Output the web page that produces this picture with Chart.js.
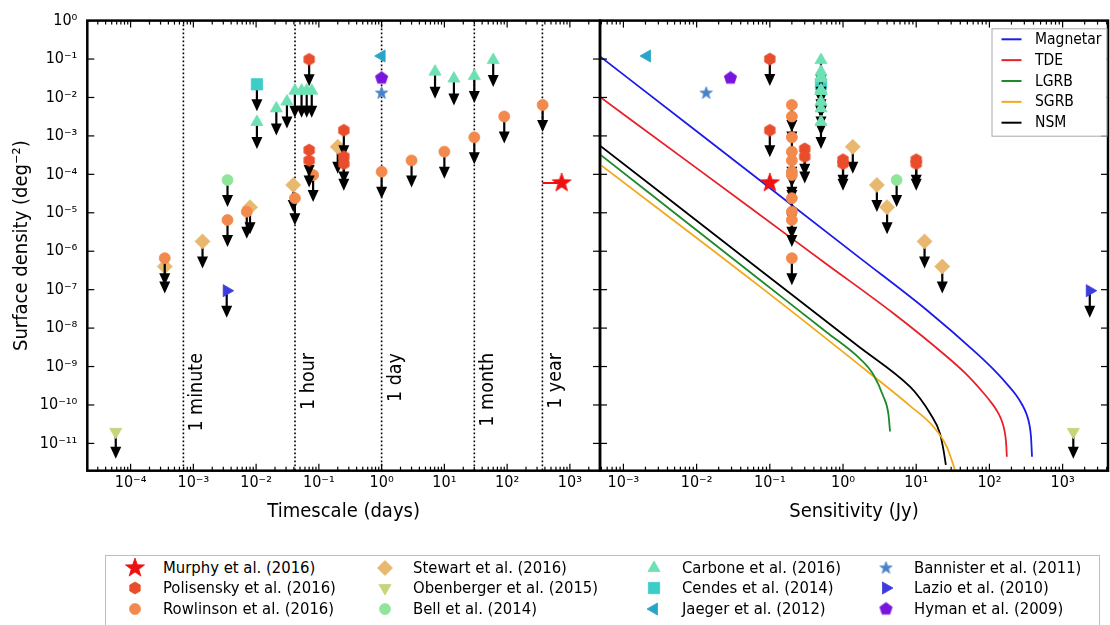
<!DOCTYPE html>
<html>
<head>
<meta charset="utf-8">
<title>Transient surface density vs timescale and sensitivity</title>
<script src="https://cdn.jsdelivr.net/npm/chart.js@4.4.1/dist/chart.umd.min.js"></script>
<style>
  html, body { margin: 0; padding: 0; background: #fff; }
  #page { position: relative; width: 1110px; height: 625px; overflow: hidden; background: #fff; }
  #page canvas.chart { position: absolute; top: 0; }
  #timeChart { left: 0; }
  #sensChart { left: 598px; }
  #legend { position: absolute; left: 105px; top: 555px; width: 995px; height: 90px;
            border: 1px solid #bdbdbd; box-sizing: border-box; background: #fff; }
  #legend canvas { position: absolute; }
  #legend span { position: absolute; white-space: nowrap; color: #000; line-height: 20px; }
</style>
</head>
<body>
<div id="page">
  <canvas id="timeChart" class="chart" width="602" height="530"></canvas>
  <canvas id="sensChart" class="chart" width="512" height="530"></canvas>
  <div id="legend"></div>
</div>
<script>
// ---- axis ticks ----
const timeTicks = [1e-4, 1e-3, 1e-2, 1e-1, 1, 1e1, 1e2, 1e3];
const sensTicks = [1e-3, 1e-2, 1e-1, 1, 1e1, 1e2, 1e3];
const densityTicks = [1, 1e-1, 1e-2, 1e-3, 1e-4, 1e-5, 1e-6, 1e-7, 1e-8, 1e-9, 1e-10, 1e-11];

// ---- reference timescales (dotted lines on the left panel) ----
const guideDays = [6.94e-4, 0.0417, 1, 30, 365];
const guideLabels = ['1 minute', '1 hour', '1 day', '1 month', '1 year'];
const guideLabelLevel = 2.25e-9; // density where the label text ends

// ---- surveys: timescale (days), sensitivity (Jy), surface density (deg^-2) ----
const murphyTime = [740];
const murphyTimeSpan = [365, 740];
const murphySens = [0.1];
const murphyDensity = [6.0e-5];

const polisenskyTime = [0.07, 0.07, 0.07, 0.25, 0.25, 0.25];
const polisenskyTimeDensity = [0.098, 4.3e-4, 2.3e-4, 1.4e-3, 2.9e-4, 1.9e-4];
const polisenskySens = [0.1, 0.1, 0.3, 0.3, 1.0, 1.0, 10, 10];
const polisenskySensDensity = [0.1, 1.4e-3, 4.6e-4, 2.9e-4, 2.4e-4, 1.9e-4, 2.4e-4, 1.9e-4];

const rowlinsonTime = [3.5e-4, 3.5e-3, 7.1e-3, 0.0415, 0.081, 1.0, 3.0, 10, 30, 90, 368];
const rowlinsonSens = [0.2, 0.2, 0.2, 0.2, 0.2, 0.2, 0.2, 0.2, 0.2, 0.2, 0.2];
const rowlinsonDensity = [6.6e-7, 6.5e-6, 1.07e-5, 2.4e-5, 9.6e-5, 1.17e-4, 2.3e-4, 3.9e-4, 9.2e-4, 3.2e-3, 6.4e-3];

const stewartTime = [3.5e-4, 1.4e-3, 8.0e-3, 0.039, 0.20];
const stewartSens = [22.7, 13, 4.0, 2.9, 1.36];
const stewartDensity = [4.0e-7, 1.8e-6, 1.4e-5, 5.3e-5, 5.2e-4];

const obenbergerTime = [5.8e-5];
const obenbergerSens = [1400];
const obenbergerDensity = [2.0e-11];

const bellTime = [3.5e-3];
const bellSens = [5.4];
const bellDensity = [7.1e-5];

const carboneTime = [0.0103, 0.021, 0.031, 0.0415, 0.053, 0.064, 0.077, 7.1, 14.2, 30, 60];
const carboneSens = [0.5, 0.5, 0.5, 0.5, 0.5, 0.5, 0.5, 0.5, 0.5, 0.5, 0.5];
const carboneDensity = [2.3e-3, 5.2e-3, 7.8e-3, 0.015, 0.015, 0.015, 0.015, 0.047, 0.031, 0.036, 0.094];

const cendesTime = [0.0103];
const cendesSens = [0.5];
const cendesDensity = [0.022];

const jaegerTime = [1.0];
const jaegerSens = [2.1e-3];
const jaegerDensity = [0.12];

const bannisterTime = [1.0];
const bannisterSens = [0.0135];
const bannisterDensity = [0.013];

const lazioTime = [3.4e-3];
const lazioSens = [2350];
const lazioDensity = [9.4e-8];

const hymanTime = [1.0];
const hymanSens = [0.029];
const hymanDensity = [0.032];

// ---- model source counts (right panel) ----
const magnetarSens = [4.79e-4, 0.01, 0.1, 1.71, 13.9, 67.1, 119, 174, 231, 279, 321, 353, 370, 382];
const magnetarDensity = [0.117, 1.32e-3, 4.4e-5, 6.6e-7, 2.95e-8, 2.19e-9, 7.7e-10, 3.5e-10, 1.82e-10,
                         1.03e-10, 5.8e-11, 3.0e-11, 1.47e-11, 4.5e-12];
const tdeSens = [4.79e-4, 0.01, 0.201, 0.598, 4.86, 26.1, 46.4, 74.4, 102, 127, 146, 161, 169, 173];
const tdeDensity = [1.03e-2, 1.45e-4, 2.13e-6, 4.6e-7, 2.43e-8, 1.82e-9, 6.8e-10, 2.6e-10, 1.27e-10,
                    7.0e-11, 4.07e-11, 2.11e-11, 1.04e-11, 4.5e-12];
const lgrbSens = [4.79e-4, 0.0735, 0.598, 1.71, 2.59, 3.56, 4.16, 4.39];
const lgrbDensity = [3.3e-4, 1.78e-7, 7.8e-9, 1.58e-9, 6.2e-10, 1.66e-10, 6.0e-11, 2.04e-11];
const sgrbSens = [4.79e-4, 0.0735, 2.34, 8.22, 17.1, 26.1, 33.9];
const sgrbDensity = [1.82e-4, 1.2e-7, 6.6e-10, 9.5e-11, 2.75e-11, 8.3e-12, 2.04e-12];
const nsmSens = [4.79e-4, 0.0735, 1.585, 8.22, 11.3, 15.5, 21.1, 23.6, 25.4];
const nsmDensity = [5.6e-4, 3.24e-7, 3.47e-9, 3.0e-10, 1.48e-10, 6.0e-11, 1.82e-11, 6.7e-12, 2.75e-12];

// ---- fonts: the figure uses a condensed sans ----
function fontExists(name) {
    const g = document.createElement('canvas').getContext('2d');
    const probe = 'Surface density 0123456789 wmWM';
    g.font = '32px monospace';
    const base = g.measureText(probe).width;
    g.font = '32px "' + name + '", monospace';
    return g.measureText(probe).width !== base;
}
const HAS_COND = fontExists('DejaVu Sans Condensed');
const FAMILY = HAS_COND ? '"DejaVu Sans Condensed", "DejaVu Sans", sans-serif' : '"DejaVu Sans", sans-serif';
const K = HAS_COND ? 1 : 0.9;
const TICK = 16 * K, TITLE = 20 * K, GUIDE = 19.5 * K, LEG = 16.5 * K, CURVE_LEG = 15.5 * K;
Chart.defaults.font.family = FAMILY;
Chart.defaults.color = '#000';

const SUP = { '-': '\u207B', '0': '\u2070', '1': '\u00B9', '2': '\u00B2', '3': '\u00B3', '4': '\u2074',
              '5': '\u2075', '6': '\u2076', '7': '\u2077', '8': '\u2078', '9': '\u2079' };
function powLabel(v) {
    const e = Math.round(Math.log10(v));
    return '10' + String(e).split('').map(ch => SUP[ch]).join('');
}

// custom marker shapes that Chart.js does not have
function shapeCanvas(kind, r, color) {
    const c = document.createElement('canvas');
    const n = Math.ceil(2 * r + 4);
    c.width = c.height = n;
    const g = c.getContext('2d');
    g.translate(n / 2, n / 2);
    g.beginPath();
    if (kind === 'star') {
        for (let k = 0; k < 10; k++) {
            const rr = k % 2 ? r * 0.4 : r;
            const a = -Math.PI / 2 + k * Math.PI / 5;
            g.lineTo(rr * Math.cos(a), rr * Math.sin(a));
        }
    } else {
        const sides = kind === 'hexagon' ? 6 : 5;
        for (let k = 0; k < sides; k++) {
            const a = -Math.PI / 2 + k * 2 * Math.PI / sides;
            g.lineTo(r * Math.cos(a), r * Math.sin(a));
        }
    }
    g.closePath();
    g.fillStyle = color;
    g.fill();
    g.lineWidth = 0.8;
    g.strokeStyle = color;
    g.stroke();
    return c;
}

// legend order (column major, 3 rows)
const series = [
    { name: 'Murphy et al. (2016)', color: '#ee1111', shape: 'star', size: 10, limit: false,
      time: murphyTime, sens: murphySens, tDen: murphyDensity, sDen: murphyDensity },
    { name: 'Polisensky et al. (2016)', color: '#e94d2c', shape: 'hexagon', size: 6, limit: true,
      time: polisenskyTime, sens: polisenskySens, tDen: polisenskyTimeDensity, sDen: polisenskySensDensity },
    { name: 'Rowlinson et al. (2016)', color: '#f28a4e', style: 'circle', size: 5.5, limit: true,
      time: rowlinsonTime, sens: rowlinsonSens, tDen: rowlinsonDensity, sDen: rowlinsonDensity },
    { name: 'Stewart et al. (2016)', color: '#e8b86e', style: 'rectRot', size: 7.5, limit: true,
      time: stewartTime, sens: stewartSens, tDen: stewartDensity, sDen: stewartDensity },
    { name: 'Obenberger et al. (2015)', color: '#c4d67a', style: 'triangle', rotation: 180, size: 7, limit: true,
      time: obenbergerTime, sens: obenbergerSens, tDen: obenbergerDensity, sDen: obenbergerDensity },
    { name: 'Bell et al. (2014)', color: '#8fe69a', style: 'circle', size: 5.5, limit: true,
      time: bellTime, sens: bellSens, tDen: bellDensity, sDen: bellDensity },
    { name: 'Carbone et al. (2016)', color: '#6ee1b4', style: 'triangle', size: 7, limit: true,
      time: carboneTime, sens: carboneSens, tDen: carboneDensity, sDen: carboneDensity },
    { name: 'Cendes et al. (2014)', color: '#3ccdc8', style: 'rect', size: 8, limit: true,
      time: cendesTime, sens: cendesSens, tDen: cendesDensity, sDen: cendesDensity },
    { name: 'Jaeger et al. (2012)', color: '#28a5c8', style: 'triangle', rotation: -90, size: 7, limit: false,
      time: jaegerTime, sens: jaegerSens, tDen: jaegerDensity, sDen: jaegerDensity },
    { name: 'Bannister et al. (2011)', color: '#4682c8', shape: 'star', size: 6.5, limit: false,
      time: bannisterTime, sens: bannisterSens, tDen: bannisterDensity, sDen: bannisterDensity },
    { name: 'Lazio et al. (2010)', color: '#3c3cdc', style: 'triangle', rotation: 90, size: 7, limit: true,
      time: lazioTime, sens: lazioSens, tDen: lazioDensity, sDen: lazioDensity },
    { name: 'Hyman et al. (2009)', color: '#7814dc', shape: 'pentagon', size: 6.5, limit: false,
      time: hymanTime, sens: hymanSens, tDen: hymanDensity, sDen: hymanDensity }
];
series.forEach(s => { if (s.shape) s.image = shapeCanvas(s.shape, s.size, s.color); });

const models = [
    { name: 'Magnetar', color: '#1c1ce8', sens: magnetarSens, den: magnetarDensity },
    { name: 'TDE', color: '#e8202a', sens: tdeSens, den: tdeDensity },
    { name: 'LGRB', color: '#1f8a2a', sens: lgrbSens, den: lgrbDensity },
    { name: 'SGRB', color: '#f2a91c', sens: sgrbSens, den: sgrbDensity },
    { name: 'NSM', color: '#000000', sens: nsmSens, den: nsmDensity }
];

function pts(xs, ys) {
    return xs.map((x, i) => ({ x: x, y: ys[i] }));
}

function markerDataset(s, xs, ys) {
    return {
        label: s.name,
        data: pts(xs, ys),
        pointStyle: s.image || s.style,
        pointRotation: s.rotation || 0,
        pointRadius: s.size,
        pointHoverRadius: s.size,
        backgroundColor: s.color,
        borderColor: s.color,
        borderWidth: 0.8,
        showLine: false,
        upperLimit: s.limit,
        order: s.shape === 'star' && s.size > 8 ? 0 : 1
    };
}

// matplotlib-like frame, inward ticks, upper-limit arrows, guides and model legend
const mplAxes = {
    id: 'mplAxes',
    beforeDatasetsDraw(chart, args, opts) {
        if (!opts.guides) return;
        const { ctx, chartArea: a, scales: { x, y } } = chart;
        ctx.save();
        ctx.strokeStyle = '#000';
        ctx.lineWidth = 1.6;
        ctx.setLineDash([1.6, 2.4]);
        guideDays.forEach(d => {
            const px = x.getPixelForValue(d);
            ctx.beginPath();
            ctx.moveTo(px, a.top);
            ctx.lineTo(px, a.bottom);
            ctx.stroke();
        });
        ctx.setLineDash([]);
        ctx.fillStyle = '#000';
        ctx.font = GUIDE + 'px ' + FAMILY;
        ctx.textAlign = 'right';
        ctx.textBaseline = 'middle';
        guideDays.forEach((d, i) => {
            ctx.save();
            ctx.translate(x.getPixelForValue(d) + 14, y.getPixelForValue(guideLabelLevel));
            ctx.rotate(-Math.PI / 2);
            ctx.fillText(guideLabels[i], 0, 0);
            ctx.restore();
        });
        ctx.restore();
    },
    beforeDatasetDraw(chart, args) {
        const ds = chart.data.datasets[args.index];
        if (!ds.upperLimit) return;
        const ctx = chart.ctx;
        ctx.save();
        ctx.fillStyle = '#000';
        ctx.strokeStyle = '#000';
        ctx.lineWidth = 2.2;
        args.meta.data.forEach(p => {
            const tip = p.y + 27, base = tip - 12;
            ctx.beginPath();
            ctx.moveTo(p.x, p.y);
            ctx.lineTo(p.x, base + 1);
            ctx.stroke();
            ctx.beginPath();
            ctx.moveTo(p.x - 5.5, base);
            ctx.lineTo(p.x + 5.5, base);
            ctx.lineTo(p.x, tip);
            ctx.closePath();
            ctx.fill();
        });
        ctx.restore();
    },
    afterDatasetsDraw(chart) {
        const { ctx, chartArea: a, scales: { x, y } } = chart;
        ctx.save();
        ctx.strokeStyle = '#000';
        ctx.lineWidth = 1.2;
        const seg = (x1, y1, x2, y2) => { ctx.beginPath(); ctx.moveTo(x1, y1); ctx.lineTo(x2, y2); ctx.stroke(); };
        const lo = Math.floor(Math.log10(x.min)), hi = Math.ceil(Math.log10(x.max));
        for (let d = lo; d <= hi; d++) {
            for (let m = 1; m <= 9; m++) {
                const v = m * Math.pow(10, d);
                if (v < x.min || v > x.max) continue;
                const px = x.getPixelForValue(v), len = m === 1 ? 7 : 4;
                seg(px, a.bottom, px, a.bottom - len);
                seg(px, a.top, px, a.top + len);
            }
        }
        densityTicks.forEach(v => {
            const py = y.getPixelForValue(v);
            seg(a.left, py, a.left + 7, py);
            seg(a.right, py, a.right - 7, py);
        });
        ctx.lineWidth = 2.5;
        ctx.strokeRect(a.left, a.top, a.right - a.left, a.bottom - a.top);
        ctx.restore();
    },
    afterDraw(chart, args, opts) {
        if (!opts.curveLegend) return;
        const { ctx, chartArea: a } = chart;
        const items = chart.data.datasets.filter(d => d.inLegend);
        const right = a.right - 1.5, left = right - 115, top = a.top + 7.7, rowH = 20.85;
        const h = 11 + rowH * (items.length - 1) + 13;
        ctx.save();
        ctx.fillStyle = '#fff';
        ctx.strokeStyle = '#a8a8a8';
        ctx.lineWidth = 1;
        ctx.fillRect(left, top, right - left, h);
        ctx.strokeRect(left + 0.5, top + 0.5, right - left, h);
        ctx.font = CURVE_LEG + 'px ' + FAMILY;
        ctx.textAlign = 'left';
        ctx.textBaseline = 'middle';
        items.forEach((d, i) => {
            const cy = top + 11 + i * rowH;
            ctx.strokeStyle = d.borderColor;
            ctx.lineWidth = 2;
            ctx.beginPath();
            ctx.moveTo(left + 10, cy);
            ctx.lineTo(left + 30, cy);
            ctx.stroke();
            ctx.fillStyle = '#000';
            ctx.fillText(d.label, left + 43.5, cy + 0.5);
        });
        ctx.restore();
    }
};

function xAxis(range, ticks, title) {
    return {
        type: 'logarithmic',
        min: range[0], max: range[1],
        afterBuildTicks: sc => { sc.ticks = ticks.map(v => ({ value: v })); },
        afterFit: sc => { sc.height = 59.3; },
        grid: { display: false, drawTicks: false },
        border: { display: false },
        ticks: { callback: powLabel, color: '#000', font: { size: TICK }, padding: 3,
                 autoSkip: false, maxRotation: 0, minRotation: 0 },
        title: { display: true, text: title, color: '#000', font: { size: TITLE },
                 padding: { top: 0, bottom: 6 } }
    };
}

const densityRange = [Math.pow(10, -11.71), 1];
const timeRange = [Math.pow(10, -4.69), Math.pow(10, 3.48)];
const sensRange = [Math.pow(10, -3.32), Math.pow(10, 3.62)];

function commonOptions(padding) {
    return {
        responsive: false,
        animation: false,
        events: [],
        layout: { autoPadding: false, padding: padding },
        plugins: { legend: { display: false }, tooltip: { enabled: false } }
    };
}

// ---- left panel: timescale ----
const timeDatasets = series.map(s => markerDataset(s, s.time, s.tDen));
timeDatasets.push({
    label: 'Murphy span',
    data: pts(murphyTimeSpan, [murphyDensity[0], murphyDensity[0]]),
    showLine: true, borderColor: '#ee1111', borderWidth: 2, pointRadius: 0, order: 2
});
const timeOptions = commonOptions({ left: 0, right: 2, top: 20.6, bottom: 0 });
timeOptions.plugins.mplAxes = { guides: true };
timeOptions.scales = {
    x: xAxis(timeRange, timeTicks, 'Timescale (days)'),
    y: {
        type: 'logarithmic',
        min: densityRange[0], max: densityRange[1],
        afterBuildTicks: sc => { sc.ticks = densityTicks.map(v => ({ value: v })); },
        afterFit: sc => { sc.width = 87.3; },
        grid: { display: false, drawTicks: false },
        border: { display: false },
        ticks: { callback: powLabel, color: '#000', font: { size: TICK }, padding: 10, autoSkip: false },
        title: { display: true, text: 'Surface density (deg\u207B\u00B2)', color: '#000',
                 font: { size: TITLE }, padding: { top: 10, bottom: 0 } }
    }
};
new Chart(document.getElementById('timeChart'), {
    type: 'scatter',
    data: { datasets: timeDatasets },
    options: timeOptions,
    plugins: [mplAxes]
});

// ---- right panel: sensitivity ----
const sensDatasets = series.map(s => markerDataset(s, s.sens, s.sDen));
models.forEach(m => {
    sensDatasets.push({
        label: m.name,
        data: pts(m.sens, m.den),
        showLine: true,
        borderColor: m.color,
        backgroundColor: m.color,
        borderWidth: 1.8,
        pointRadius: 0,
        cubicInterpolationMode: 'monotone',
        inLegend: true,
        order: 5
    });
});
const sensOptions = commonOptions({ left: 2, right: 2, top: 20.6, bottom: 0 });
sensOptions.plugins.mplAxes = { curveLegend: true };
sensOptions.scales = {
    x: xAxis(sensRange, sensTicks, 'Sensitivity (Jy)'),
    y: { type: 'logarithmic', display: false, min: densityRange[0], max: densityRange[1] }
};
new Chart(document.getElementById('sensChart'), {
    type: 'scatter',
    data: { datasets: sensDatasets },
    options: sensOptions,
    plugins: [mplAxes]
});

// ---- bottom legend (4 columns x 3 rows, column major) ----
const legendBox = document.getElementById('legend');
const colMarkerX = [29, 279, 548, 780];   // relative to the legend box
const rowY = [12, 32, 53];
series.forEach((s, i) => {
    const col = Math.floor(i / 3), row = i % 3;
    const c = document.createElement('canvas');
    c.width = 26; c.height = 22;
    c.style.left = (colMarkerX[col] - 13) + 'px';
    c.style.top = (rowY[row] - 11) + 'px';
    const g = c.getContext('2d');
    g.fillStyle = s.color;
    g.strokeStyle = s.color;
    g.lineWidth = 0.8;
    Chart.helpers.drawPoint(g, { pointStyle: s.image || s.style, rotation: s.rotation || 0,
                                 radius: s.size, borderWidth: 0.8 }, 13, 11);
    legendBox.appendChild(c);
    const t = document.createElement('span');
    t.textContent = s.name;
    t.style.left = (colMarkerX[col] + 28) + 'px';
    t.style.top = (rowY[row] - 10) + 'px';
    t.style.fontFamily = FAMILY;
    t.style.fontSize = LEG + 'px';
    legendBox.appendChild(t);
});
</script>
</body>
</html>
